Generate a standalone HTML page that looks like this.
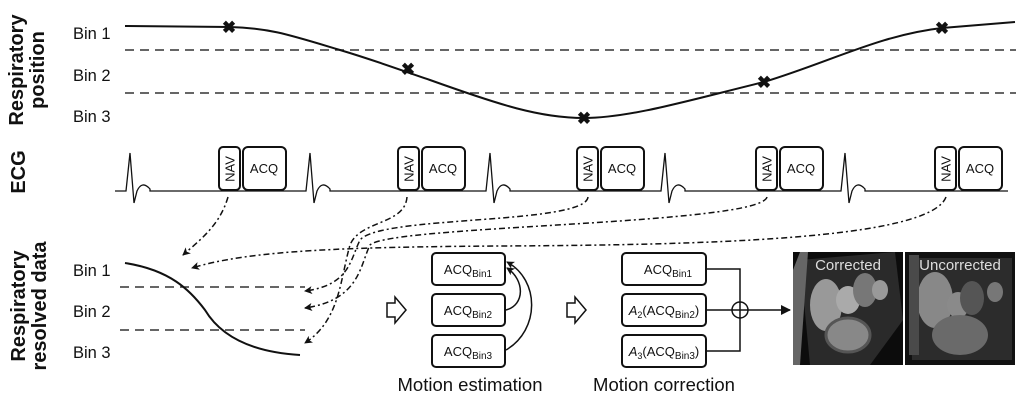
<!DOCTYPE html>
<html><head><meta charset="utf-8"><style>
body{margin:0;background:#fff;}
svg{display:block;font-family:"Liberation Sans",sans-serif;}
</style></head><body>
<svg width="1024" height="400" viewBox="0 0 1024 400" xmlns="http://www.w3.org/2000/svg">
<defs>
<marker id="ah" markerWidth="8" markerHeight="8" refX="7" refY="4" orient="auto" markerUnits="userSpaceOnUse"><path d="M0,0 L8,4 L0,8 L2,4 Z" fill="#111"/></marker>
<marker id="ah2" markerWidth="10" markerHeight="10" refX="9" refY="5" orient="auto" markerUnits="userSpaceOnUse"><path d="M0,0 L10,5 L0,10 Z" fill="#111"/></marker>
</defs>
<g font-weight="bold" font-size="20" fill="#111" text-anchor="middle">
<text transform="translate(23,70) rotate(-90)">Respiratory</text>
<text transform="translate(44,70) rotate(-90)">position</text>
<text transform="translate(25,172) rotate(-90)">ECG</text>
<text transform="translate(25,306) rotate(-90)">Respiratory</text>
<text transform="translate(46,306) rotate(-90)">resolved data</text>
</g>
<g font-size="16.5" fill="#111">
<text x="73" y="39">Bin 1</text><text x="73" y="81">Bin 2</text><text x="73" y="122">Bin 3</text>
<text x="73" y="276">Bin 1</text><text x="73" y="317">Bin 2</text><text x="73" y="358">Bin 3</text>
</g>
<g stroke="#333" stroke-width="1.6" stroke-dasharray="9,6" fill="none">
<line x1="125" y1="50" x2="1016" y2="50"/><line x1="125" y1="93" x2="1016" y2="93"/>
<line x1="120" y1="287" x2="305" y2="287"/><line x1="120" y1="330" x2="305" y2="330"/>
</g>
<path d="M125,26 L230,27 C270,28 290,35 340,50 C380,62 400,70 430,80 C500,105 540,118 584,118 C630,118 690,100 764,82 C830,62 880,35 942,28 L1015,22" fill="none" stroke="#111" stroke-width="2"/>
<g font-size="17" font-weight="bold" fill="#111" text-anchor="middle">
<text x="229" y="33">✖</text><text x="408" y="75">✖</text><text x="584" y="124">✖</text><text x="764" y="88">✖</text><text x="942" y="34">✖</text>
</g>
<path d="M125,263 C170,270 190,290 205,310 C220,335 250,352 300,355" fill="none" stroke="#111" stroke-width="2"/>
<path fill="none" stroke="#111" stroke-width="1.3" d="M115,191 L126,191 L130,153 L134,203 L137,191 Q142,180 150,189 L150,191 L306,191 L310,153 L314,203 L317,191 Q322,180 330,189 L330,191 L486,191 L490,153 L494,203 L497,191 Q502,180 510,189 L510,191 L661,191 L665,153 L669,203 L672,191 Q677,180 685,189 L685,191 L841,191 L845,153 L849,203 L852,191 Q857,180 865,189 L865,191 L1008,191"/>
<g fill="#fff" stroke="#111" stroke-width="2">
<rect x="219" y="147" width="21" height="43" rx="4"/><rect x="243" y="147" width="43" height="43" rx="5"/>
<rect x="398" y="147" width="21" height="43" rx="4"/><rect x="422" y="147" width="43" height="43" rx="5"/>
<rect x="577" y="147" width="21" height="43" rx="4"/><rect x="601" y="147" width="43" height="43" rx="5"/>
<rect x="756" y="147" width="21" height="43" rx="4"/><rect x="780" y="147" width="43" height="43" rx="5"/>
<rect x="935" y="147" width="21" height="43" rx="4"/><rect x="959" y="147" width="43" height="43" rx="5"/>
</g>
<g font-size="13" fill="#111" text-anchor="middle">
<text x="264" y="173">ACQ</text><text x="443" y="173">ACQ</text><text x="622" y="173">ACQ</text><text x="801" y="173">ACQ</text><text x="980" y="173">ACQ</text>
<text transform="translate(234.5,169) rotate(-90)">NAV</text><text transform="translate(413.5,169) rotate(-90)">NAV</text><text transform="translate(592.5,169) rotate(-90)">NAV</text><text transform="translate(771.5,169) rotate(-90)">NAV</text><text transform="translate(950.5,169) rotate(-90)">NAV</text>
</g>
<g fill="none" stroke="#111" stroke-width="1.5" stroke-dasharray="6,3,2,3" marker-end="url(#ah)">
<path d="M228,197 C220,225 200,240 183,255"/>
<path d="M407,197 C405,225 360,220 350,245 C340,280 340,320 305,343"/>
<path d="M588,197 C585,225 380,215 360,240 C350,260 350,285 305,291"/>
<path d="M767,197 C760,225 390,225 370,245 C360,265 360,300 305,308"/>
<path d="M946,197 C930,240 700,245 500,246 C350,247 250,250 192,268"/>
</g>
<path d="M387,303 L395,303 L395,297 L406,310 L395,323 L395,317 L387,317 Z" fill="#fff" stroke="#111" stroke-width="1.5"/>
<path d="M567,303 L575,303 L575,297 L586,310 L575,323 L575,317 L567,317 Z" fill="#fff" stroke="#111" stroke-width="1.5"/>
<g fill="#fff" stroke="#111" stroke-width="2">
<rect x="432" y="253" width="73" height="32" rx="4"/><rect x="432" y="294" width="73" height="32" rx="4"/><rect x="432" y="335" width="73" height="32" rx="4"/>
<rect x="622" y="253" width="84" height="32" rx="4"/><rect x="622" y="294" width="84" height="32" rx="4"/><rect x="622" y="335" width="84" height="32" rx="4"/>
</g>
<g font-size="13" fill="#111" text-anchor="middle">
<text x="468" y="274">ACQ<tspan font-size="10" dy="3">Bin1</tspan></text>
<text x="468" y="315">ACQ<tspan font-size="10" dy="3">Bin2</tspan></text>
<text x="468" y="356">ACQ<tspan font-size="10" dy="3">Bin3</tspan></text>
<text x="668" y="274">ACQ<tspan font-size="10" dy="3">Bin1</tspan></text>
<text x="664" y="315"><tspan font-style="italic">A</tspan><tspan font-size="9" dy="3">2</tspan><tspan dy="-3">(ACQ</tspan><tspan font-size="10" dy="3">Bin2</tspan><tspan dy="-3">)</tspan></text>
<text x="664" y="356"><tspan font-style="italic">A</tspan><tspan font-size="9" dy="3">3</tspan><tspan dy="-3">(ACQ</tspan><tspan font-size="10" dy="3">Bin3</tspan><tspan dy="-3">)</tspan></text>
</g>
<g fill="none" stroke="#111" stroke-width="1.5" marker-end="url(#ah)">
<path d="M506,310 C525,305 525,280 507,268"/>
<path d="M506,350 C540,330 540,280 507,262"/>
</g>
<g fill="none" stroke="#111" stroke-width="1.5">
<path d="M706,269 L740,269 L740,351 L706,351"/><line x1="706" y1="310" x2="732" y2="310"/>
<circle cx="740" cy="310" r="8" fill="#fff"/><line x1="740" y1="302" x2="740" y2="318"/><line x1="732" y1="310" x2="748" y2="310"/>
<line x1="748" y1="310" x2="790" y2="310" marker-end="url(#ah2)"/>
</g>
<g font-size="18.5" fill="#111" text-anchor="middle">
<text x="470" y="391">Motion estimation</text><text x="664" y="391">Motion correction</text>
</g>
<rect x="793" y="252" width="110" height="113" fill="#0c0c0c"/>
<path d="M800,260 L895,252 L903,320 L870,365 L810,365 Z" fill="#2a2a2a"/>
<rect x="905" y="252" width="110" height="113" fill="#111"/>
<path d="M910,258 L1012,258 L1012,360 L912,360 Z" fill="#2c2c2c"/>
<g>
<ellipse cx="826" cy="305" rx="16" ry="26" fill="#999"/><ellipse cx="848" cy="300" rx="12" ry="14" fill="#aaa"/><ellipse cx="865" cy="290" rx="12" ry="17" fill="#777"/><ellipse cx="848" cy="335" rx="22" ry="17" fill="#888" stroke="#555" stroke-width="3"/><ellipse cx="880" cy="290" rx="8" ry="10" fill="#999"/><path d="M793,270 L800,252 L808,252 L800,365 L793,365Z" fill="#666"/>
<ellipse cx="935" cy="300" rx="18" ry="28" fill="#888"/><ellipse cx="958" cy="305" rx="11" ry="13" fill="#8a8a8a"/><ellipse cx="972" cy="298" rx="12" ry="17" fill="#555"/><ellipse cx="960" cy="335" rx="28" ry="20" fill="#6a6a6a"/><ellipse cx="995" cy="292" rx="8" ry="10" fill="#777"/><rect x="909" y="255" width="10" height="100" fill="#4a4a4a"/>
</g>
<g font-size="15" fill="#ddd" text-anchor="middle">
<text x="848" y="270">Corrected</text><text x="960" y="270">Uncorrected</text>
</g>
</svg>
</body></html>
